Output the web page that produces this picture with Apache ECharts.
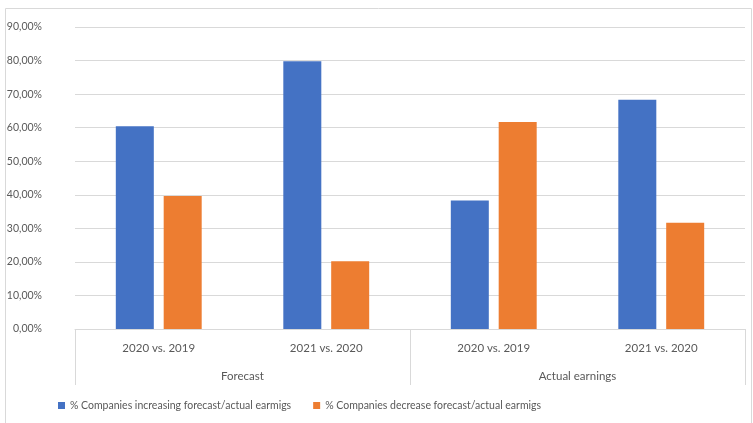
<!DOCTYPE html>
<html><head><meta charset="utf-8">
<script src="https://cdn.jsdelivr.net/npm/echarts@6/dist/echarts.min.js"></script>
<style>html,body{margin:0;padding:0;background:#fff}#c{width:753px;height:423px}</style>
</head><body><div id="c"></div>
<script>
const categories = ["2020 vs. 2019", "2021 vs. 2020", "2020 vs. 2019", "2021 vs. 2020"];
const groups = ["Forecast", "Actual earnings"];
const seriesNames = ["% Companies increasing forecast/actual earmigs", "% Companies decrease forecast/actual earmigs"];
const increasing = [60.4, 79.8, 38.3, 68.3];
const decreasing = [39.6, 20.2, 61.7, 31.7];

const FONT = 'Lato, "Open Sans", sans-serif';
const TXT = '#595959';
const chart = echarts.init(document.getElementById('c'), null, {renderer: 'canvas'});
chart.setOption({
  animation: false,
  textStyle: {fontFamily: FONT, color: TXT},
  graphic: [{type: 'rect', shape: {x: 5.5, y: 8.5, width: 746, height: 420}, style: {fill: 'none', stroke: '#d9d9d9', lineWidth: 1}, silent: true, z: -1}],
  grid: {left: 75, right: 8, top: 27, bottom: 94, containLabel: false},
  legend: {
    bottom: 7, left: 53,
    itemWidth: 7, itemHeight: 7, itemGap: 22,
    icon: 'rect',
    textStyle: {fontFamily: FONT, color: TXT, fontSize: 10.5},
    data: seriesNames
  },
  xAxis: [{
    type: 'category', data: categories, position: 'bottom',
    axisLine: {lineStyle: {color: '#d9d9d9'}},
    axisTick: {show: false},
    axisLabel: {color: TXT, fontSize: 11.5, fontFamily: FONT, margin: 13}
  }, {
    type: 'category', data: groups, position: 'bottom',
    axisLine: {show: false},
    axisTick: {show: true, length: 56, lineStyle: {color: '#d9d9d9'}},
    axisLabel: {color: TXT, fontSize: 11.5, fontFamily: FONT, margin: 41}
  }],
  yAxis: {
    type: 'value', min: 0, max: 90, interval: 10,
    axisLine: {show: false}, axisTick: {show: false},
    splitLine: {lineStyle: {color: '#d9d9d9'}},
    axisLabel: {color: TXT, fontSize: 10.5, fontFamily: FONT, margin: 33,
      formatter: v => v.toFixed(2).replace('.', ',') + '%'}
  },
  series: [{
    name: seriesNames[0], type: 'bar', data: increasing, xAxisIndex: 0,
    barWidth: 38, barGap: '26%', itemStyle: {color: '#4472c4'}
  }, {
    name: seriesNames[1], type: 'bar', data: decreasing, xAxisIndex: 0,
    barWidth: 38, barGap: '26%', itemStyle: {color: '#ed7d31'}
  }]
});
</script></body></html>
